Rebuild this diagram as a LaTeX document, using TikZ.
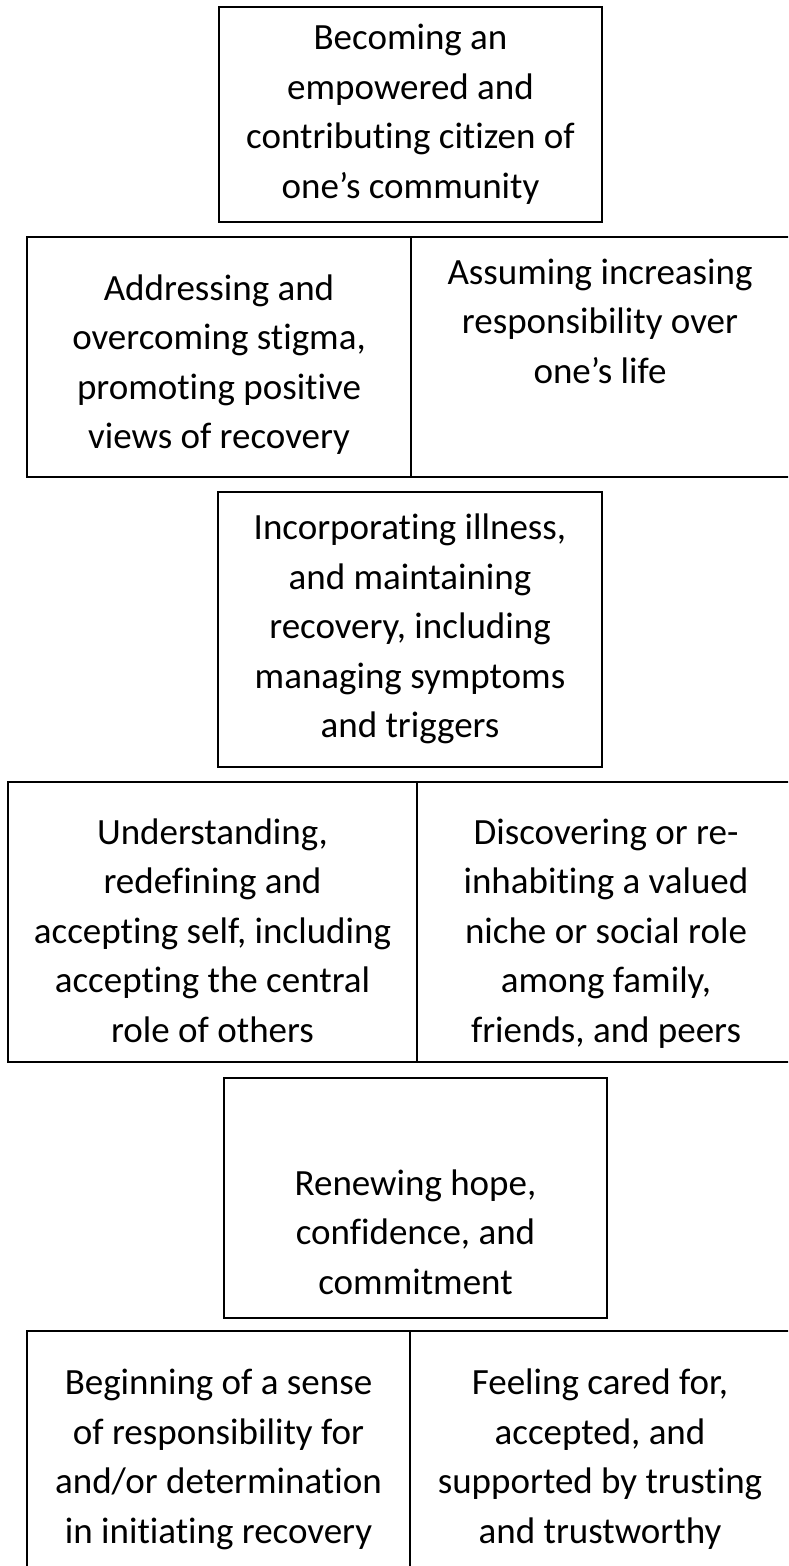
\documentclass[tikz,border=0pt]{standalone}
\usepackage{fontspec}
\setmainfont{Carlito}[Ligatures={TeX,NoCommon}]
\tikzset{
  cell/.style={draw=black, line width=2pt},
  stagetext/.style={align=center, inner sep=0pt,
    font=\fontsize{37}{49.5}\selectfont,
    execute at begin node=\strut, execute at end node=\strut},
}
\begin{document}
\begin{tikzpicture}[x=1pt,y=-1pt]
\useasboundingbox (0,0) rectangle (788,1566);
\clip (0,0) rectangle (788,1566);

% top stage
\draw[cell] (219,7) rectangle (602,222);
\node[stagetext] (citizen) at (410.5,118.5) {Becoming an\\empowered and\\contributing citizen of\\one’s community};

% second row
\draw[cell] (27,237) rectangle (411,477);
\draw[cell] (411,237) rectangle (792,477);
\node[stagetext] (stigma) at (219,369) {Addressing and\\overcoming stigma,\\promoting positive\\views of recovery};
\node[stagetext] (responsibility) at (600,328.5) {Assuming increasing\\responsibility over\\one’s life};

% middle stage
\draw[cell] (218,492) rectangle (602,767);
\node[stagetext] (illness) at (410,633.5) {Incorporating illness,\\and maintaining\\recovery, including\\managing symptoms\\and triggers};

% fourth row
\draw[cell] (8,782) rectangle (417,1062);
\draw[cell] (417,782) rectangle (796,1062);
\node[stagetext] (self) at (212.5,938) {Understanding,\\redefining and\\accepting self, including\\accepting the central\\role of others};
\node[stagetext] (niche) at (606,938) {Discovering or re-\\inhabiting a valued\\niche or social role\\among family,\\friends, and peers};

% hope stage
\draw[cell] (224,1078) rectangle (607,1318);
\node[stagetext] (hope) at (415.5,1239.5) {Renewing hope,\\confidence, and\\commitment};

% bottom row
\draw[cell] (27,1331) rectangle (410,1580);
\draw[cell] (410,1331) rectangle (792,1580);
\node[stagetext] (beginning) at (218.5,1463.5) {Beginning of a sense\\of responsibility for\\and/or determination\\in initiating recovery};
\node[stagetext] (cared) at (600,1463.5) {Feeling cared for,\\accepted, and\\supported by trusting\\and trustworthy};

\end{tikzpicture}
\end{document}
